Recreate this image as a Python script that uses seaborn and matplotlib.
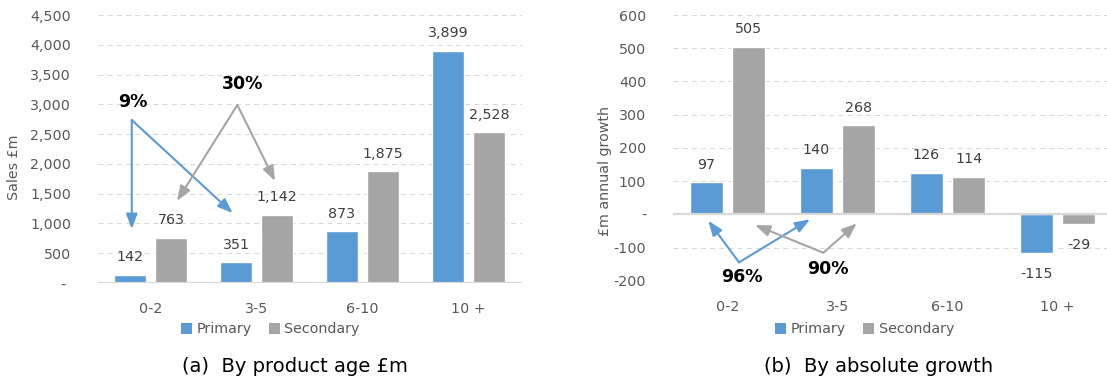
import matplotlib
matplotlib.use("Agg")
import matplotlib.pyplot as plt
from matplotlib.patches import Patch
import pandas as pd
import seaborn as sns

# Product age bands and the two series
categories = ["0-2", "3-5", "6-10", "10 +"]
series = ["Primary", "Secondary"]
sales_primary = [142, 351, 873, 3899]
sales_secondary = [763, 1142, 1875, 2528]
growth_primary = [97, 140, 126, -115]
growth_secondary = [505, 268, 114, -29]

sales_ticks = [0, 500, 1000, 1500, 2000, 2500, 3000, 3500, 4000, 4500]
growth_ticks = [-200, -100, 0, 100, 200, 300, 400, 500, 600]

BLUE = "#5B9BD5"
GREY = "#A5A5A5"
TICK_CLR = "#595959"
LABEL_CLR = "#404040"
GRID_CLR = "#D9D9D9"

sns.set_theme(style="white")
plt.rcParams["font.family"] = ["DejaVu Sans"]


def long_frame(primary, secondary):
    return pd.DataFrame({
        "age": categories * 2,
        "series": [series[0]] * len(categories) + [series[1]] * len(categories),
        "value": list(primary) + list(secondary),
    })


def style_axis(ax, ticks, ticklabels, ylim):
    ax.set_ylim(*ylim)
    ax.set_xlim(-0.5, 3.5)
    ax.set_yticks(ticks)
    ax.set_yticklabels(ticklabels)
    for s in ax.spines.values():
        s.set_visible(False)
    ax.tick_params(axis="both", length=0, labelsize=10.3, labelcolor=TICK_CLR)
    ax.tick_params(axis="y", pad=19)
    ax.tick_params(axis="x", pad=14)
    ax.set_xlabel("")
    ax.set_ylabel("")
    for t in ticks:
        if t != 0:
            ax.axhline(t, color=GRID_CLR, lw=0.75, dashes=(4.8, 4), zorder=0)
    ax.axhline(0, color=GRID_CLR, lw=1.6, zorder=3)


def value_labels(ax, above_pt=12.6, below_pt=15.0):
    for cont in ax.containers:
        for bar in cont:
            h = bar.get_height()
            x = bar.get_x() + bar.get_width() / 2
            off = above_pt if h >= 0 else -below_pt
            ax.annotate(f"{int(round(h)):,}", xy=(x, h), xytext=(0, off),
                        textcoords="offset points", ha="center", va="center",
                        fontsize=10.3, color=LABEL_CLR)


def arrow(ax, start, end, color):
    ax.annotate("", xy=end, xytext=start,
                arrowprops=dict(arrowstyle="-|>,head_length=0.45,head_width=0.17",
                                color=color, lw=1.5, mutation_scale=20,
                                shrinkA=0, shrinkB=0),
                zorder=5)


fig = plt.figure(figsize=(11.07, 3.76), dpi=100)
ax1 = fig.add_axes([0.0881, 0.2473, 0.3830, 0.7128])
ax2 = fig.add_axes([0.6075, 0.2527, 0.3975, 0.7074])

bar_kw = dict(x="age", y="value", hue="series", order=categories,
              hue_order=series, palette=[BLUE, GREY], width=0.774, gap=0.22,
              saturation=1, legend=False, errorbar=None, zorder=2)

# (a) sales by product age
sns.barplot(data=long_frame(sales_primary, sales_secondary), ax=ax1, **bar_kw)
style_axis(ax1, sales_ticks,
           ["- " if t == 0 else f"{t:,}" for t in sales_ticks], (0, 4500))
value_labels(ax1)
arrow(ax1, (-0.177, 2737), (-0.177, 907), BLUE)
arrow(ax1, (-0.177, 2737), (0.775, 1175), BLUE)
arrow(ax1, (0.819, 2989), (0.25, 1377), GREY)
arrow(ax1, (0.819, 2989), (1.175, 1713), GREY)
ax1.text(-0.165, 3044, "9%", ha="center", va="center", fontsize=12.5,
         fontweight="bold", color="black")
ax1.text(0.873, 3341, "30%", ha="center", va="center", fontsize=12.5,
         fontweight="bold", color="black")

# (b) absolute annual growth
sns.barplot(data=long_frame(growth_primary, growth_secondary), ax=ax2, **bar_kw)
style_axis(ax2, growth_ticks,
           ["-" if t == 0 else f"{t:,}" for t in growth_ticks], (-200, 600))
value_labels(ax2)
arrow(ax2, (0.105, -144), (-0.175, -18.6), BLUE)
arrow(ax2, (0.105, -144), (0.75, -14.4), BLUE)
arrow(ax2, (0.871, -115), (0.25, -31.6), GREY)
arrow(ax2, (0.871, -115), (1.175, -26.5), GREY)
ax2.text(0.129, -187, "96%", ha="center", va="center", fontsize=12.5,
         fontweight="bold", color="black")
ax2.text(0.916, -165, "90%", ha="center", va="center", fontsize=12.5,
         fontweight="bold", color="black")

# axis titles
fig.text(0.0126, 0.556, "Sales \u00a3m", rotation=90, ha="center", va="center",
         fontsize=10.3, color=TICK_CLR)
fig.text(0.5465, 0.545, "\u00a3m annual growth", rotation=90, ha="center",
         va="center", fontsize=10.3, color=TICK_CLR)

# legends
handles = [Patch(facecolor=BLUE, edgecolor="none"),
           Patch(facecolor=GREY, edgecolor="none")]
leg_kw = dict(ncol=2, frameon=False, fontsize=10.3, handlelength=0.8,
              handleheight=0.8, handletextpad=0.3, columnspacing=1.2,
              labelcolor=TICK_CLR, borderpad=0, borderaxespad=0)
fig.legend(handles, series, loc="center", bbox_to_anchor=(0.244, 0.125), **leg_kw)
fig.legend(handles, series, loc="center", bbox_to_anchor=(0.781, 0.125), **leg_kw)

# panel captions
fig.text(0.266, 0.0106, "(a)  By product age \u00a3m", ha="center",
         va="baseline", fontsize=14, color="black")
fig.text(0.7936, 0.0106, "(b)  By absolute growth", ha="center",
         va="baseline", fontsize=14, color="black")

fig.savefig("out.png", dpi=100)
